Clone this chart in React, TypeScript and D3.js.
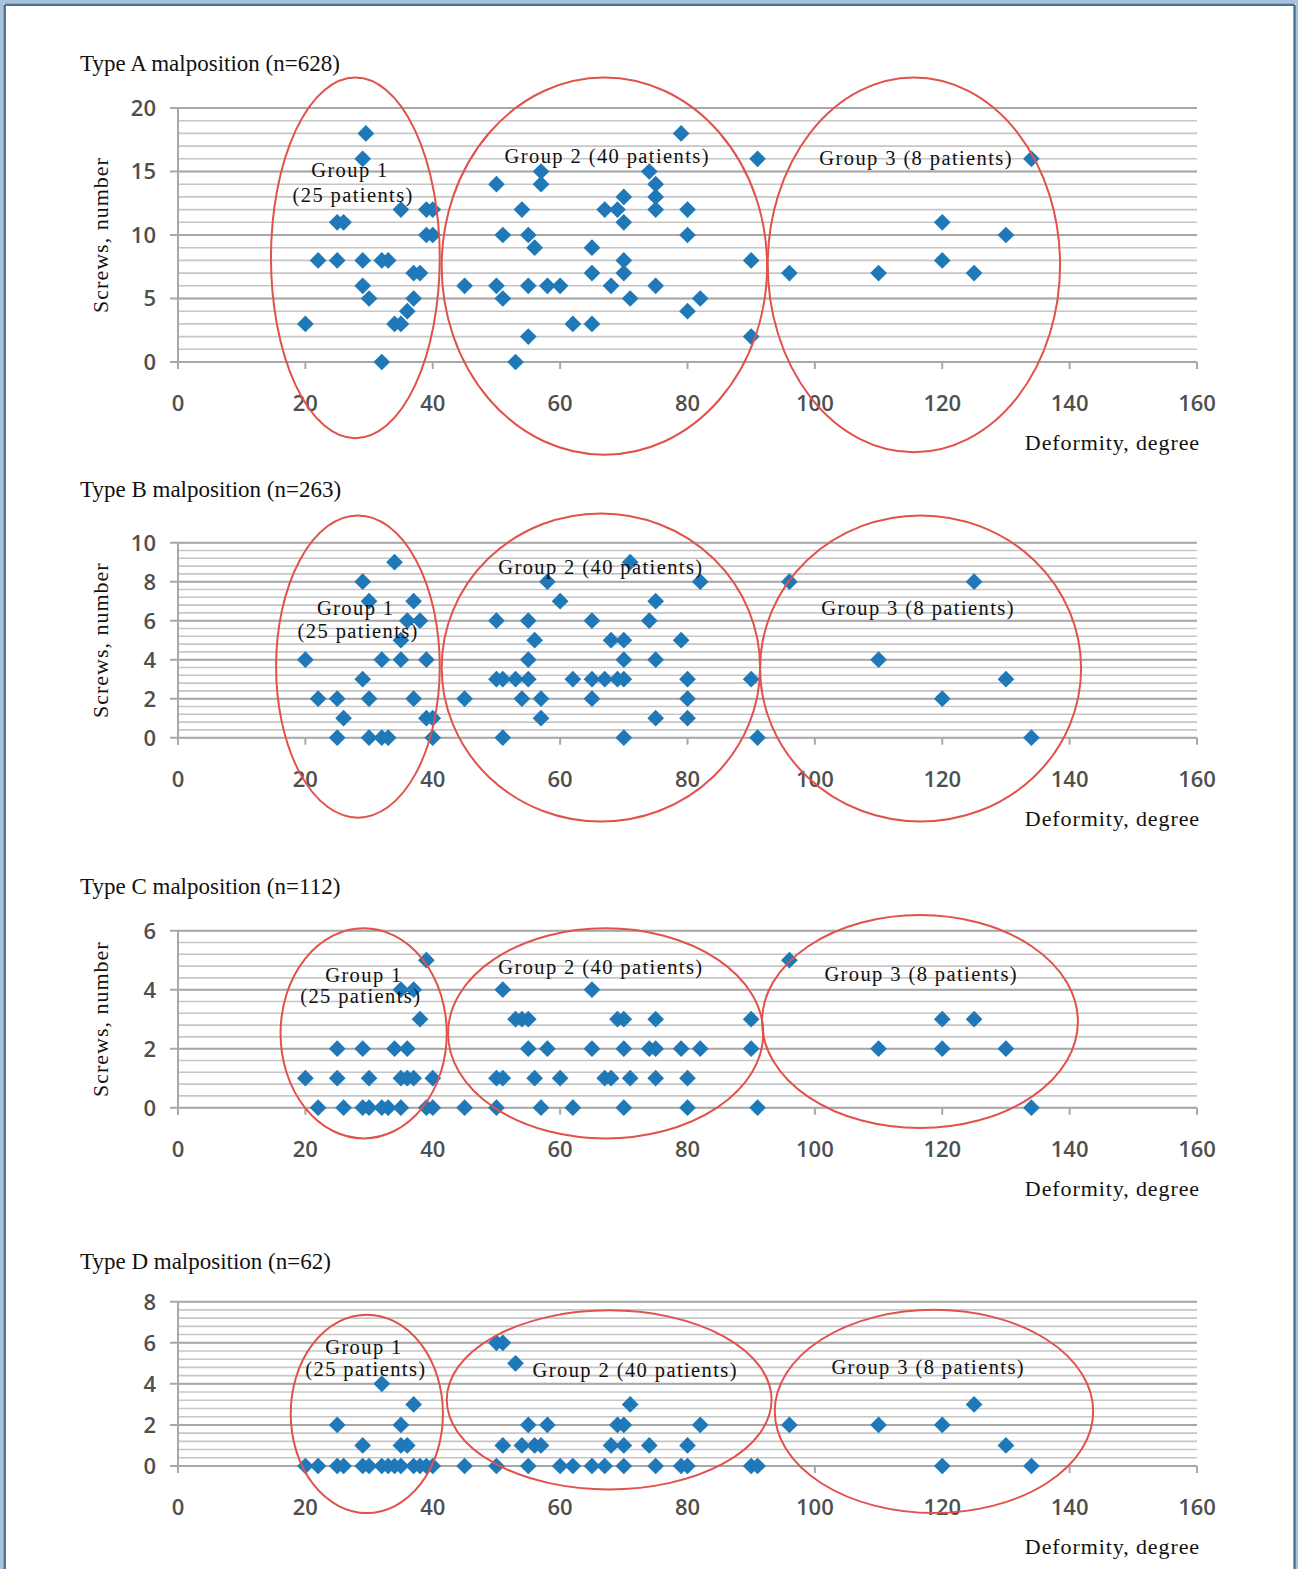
import React from 'react';
import * as d3 from 'd3';

// deformity (degree), screws (number)
const typeA: [number, number][] = [
	[20, 3], [22, 8], [25, 8], [25, 11], [26, 11], [29, 8], [29, 6], [29, 16], [29.5, 18], [30, 5],
	[32, 8], [33, 8], [32, 0], [34, 3], [35, 3], [36, 4], [37, 5], [37, 7], [38, 7], [35, 12],
	[39, 12], [40, 12], [39, 10], [40, 10], [45, 6],
	[50, 14], [54, 12], [57, 15], [57, 14], [51, 10], [55, 10], [56, 9], [50, 6], [51, 5], [55, 6],
	[58, 6], [60, 6], [55, 2], [53, 0], [62, 3], [65, 3], [65, 9], [65, 7], [68, 6], [70, 8],
	[70, 7], [71, 5], [67, 12], [69, 12], [70, 13], [70, 11], [74, 15], [75, 14], [75, 13], [75, 12],
	[75, 6], [79, 18], [80, 12], [80, 10], [80, 4], [82, 5], [90, 8], [90, 2], [91, 16], [96, 7],
	[110, 7], [120, 11], [120, 8], [125, 7], [130, 10], [134, 16],
];

const typeB: [number, number][] = [
	[20, 4], [22, 2], [25, 2], [26, 1], [25, 0], [29, 8], [30, 7], [29, 3], [30, 2], [30, 0],
	[32, 0], [33, 0], [32, 4], [34, 9], [35, 5], [35, 4], [36, 6], [37, 7], [38, 6], [37, 2],
	[39, 4], [39, 1], [40, 1], [40, 0], [45, 2],
	[50, 6], [55, 6], [56, 5], [55, 4], [50, 3], [51, 3], [53, 3], [55, 3], [54, 2], [57, 2],
	[57, 1], [51, 0], [58, 8], [60, 7], [71, 9], [82, 8], [65, 6], [62, 3], [65, 3], [67, 3],
	[69, 3], [70, 3], [65, 2], [68, 5], [70, 5], [70, 4], [70, 0], [75, 7], [74, 6], [75, 4],
	[75, 1], [79, 5], [80, 3], [80, 2], [80, 1], [90, 3], [91, 0], [96, 8],
	[110, 4], [120, 2], [125, 8], [130, 3], [134, 0],
];

const typeC: [number, number][] = [
	[20, 1], [22, 0], [25, 2], [25, 1], [26, 0], [29, 2], [30, 1], [29, 0], [30, 0], [32, 0],
	[33, 0], [34, 2], [36, 2], [35, 1], [36, 1], [37, 1], [35, 0], [35, 4], [37, 4], [38, 3],
	[39, 5], [40, 1], [39, 0], [40, 0], [45, 0],
	[51, 4], [65, 4], [53, 3], [54, 3], [55, 3], [69, 3], [70, 3], [75, 3], [90, 3], [55, 2],
	[58, 2], [65, 2], [70, 2], [74, 2], [75, 2], [79, 2], [82, 2], [90, 2], [50, 1], [51, 1],
	[56, 1], [60, 1], [67, 1], [68, 1], [71, 1], [75, 1], [80, 1], [50, 0], [57, 0], [62, 0],
	[70, 0], [80, 0], [91, 0], [96, 5],
	[110, 2], [120, 3], [120, 2], [125, 3], [130, 2], [134, 0],
];

const typeD: [number, number][] = [
	[25, 2], [32, 4], [37, 3], [35, 2], [29, 1], [35, 1], [36, 1],
	[20, 0], [22, 0], [25, 0], [26, 0], [29, 0], [30, 0], [32, 0], [33, 0], [34, 0],
	[35, 0], [37, 0], [38, 0], [39, 0], [40, 0], [45, 0],
	[50, 6], [51, 6], [53, 5], [71, 3], [55, 2], [58, 2], [69, 2], [70, 2], [82, 2], [96, 2],
	[51, 1], [54, 1], [56, 1], [57, 1], [68, 1], [70, 1], [74, 1], [80, 1],
	[50, 0], [55, 0], [60, 0], [62, 0], [65, 0], [67, 0], [70, 0], [75, 0], [79, 0], [80, 0],
	[90, 0], [91, 0],
	[110, 2], [120, 2], [120, 0], [125, 3], [130, 1], [134, 0],
];

const titles = ['Type A malposition (n=628)', 'Type B malposition (n=263)', 'Type C malposition (n=112)', 'Type D malposition (n=62)'];
const xTicks = [0, 20, 40, 60, 80, 100, 120, 140, 160];
const groupNames = ['Group 1', '(25 patients)', 'Group 2 (40 patients)', 'Group 3 (8 patients)'];

// group ellipses as data-space boxes [deg0, deg1, screws0, screws1]
const ellipsesA = [[14.6, 41.1, -6.0, 22.4], [41.4, 92.5, -7.3, 22.4], [92.6, 138.5, -7.1, 22.4]];
const ellipsesB = [[15.4, 41.1, -4.1, 11.4], [41.4, 91.4, -4.3, 11.5], [91.4, 141.8, -4.3, 11.4]];
const ellipsesC = [[16.1, 42.2, -1.04, 6.08], [42.4, 91.9, -1.04, 6.08], [91.7, 141.3, -0.69, 6.53]];
const ellipsesD = [[17.7, 41.6, -2.29, 7.37], [42.2, 93.2, -1.14, 7.58], [93.7, 143.7, -2.29, 7.61]];

// label anchors (deg, screws) in the same order as groupNames
const labelsA = [[27.0, 14.6], [27.5, 12.6], [67.4, 15.7], [115.9, 15.5]];
const labelsB = [[27.9, 6.3], [28.3, 5.1], [66.4, 8.4], [116.2, 6.3]];
const labelsC = [[29.2, 4.27], [28.7, 3.56], [66.4, 4.53], [116.7, 4.3]];
const labelsD = [[29.2, 5.46], [29.5, 4.39], [71.8, 4.34], [117.8, 4.49]];

const LEFT = 178;
const RIGHT = 1197;
const serif = '"Liberation Serif", "Times New Roman", serif';
const sans = '"Open Sans", "Liberation Sans", sans-serif';
const tickColor = '#4f4f4f';

const panels = [
	{ data: typeA, yMax: 20, major: 5, minor: 1, top: 108, bottom: 362, titleY: 71, ell: ellipsesA, lab: labelsA, yTitle: true },
	{ data: typeB, yMax: 10, major: 2, minor: 0.4, top: 542.7, bottom: 737.7, titleY: 497, ell: ellipsesB, lab: labelsB, yTitle: true },
	{ data: typeC, yMax: 6, major: 2, minor: 0.4, top: 930.7, bottom: 1107.7, titleY: 894, ell: ellipsesC, lab: labelsC, yTitle: true },
	{ data: typeD, yMax: 8, major: 2, minor: 0.4, top: 1301.7, bottom: 1466, titleY: 1269, ell: ellipsesD, lab: labelsD, yTitle: false },
];

const diamond = d3.symbol(d3.symbolSquare, 140)();

const Panel = ({ cfg, title }) => {
	const x = d3.scaleLinear().domain([0, 160]).range([LEFT, RIGHT]);
	const y = d3.scaleLinear().domain([0, cfg.yMax]).range([cfg.bottom, cfg.top]);
	const minorTicks = d3.range(0, cfg.yMax + 1e-6, cfg.minor);
	const majorTicks = d3.range(0, cfg.yMax + 1e-6, cfg.major);

	return (
		<g>
			<text x={80} y={cfg.titleY} fontFamily={serif} fontSize={23} fill="#111">{title}</text>
			{minorTicks.map((t) => (
				<line key={'m' + t} x1={LEFT} x2={RIGHT} y1={y(t)} y2={y(t)} stroke="#c6c6c6" strokeWidth={1.6} />
			))}
			{majorTicks.map((t) => (
				<line key={'M' + t} x1={LEFT - 8} x2={RIGHT} y1={y(t)} y2={y(t)} stroke="#a8a8a8" strokeWidth={2} />
			))}
			<line x1={LEFT} x2={LEFT} y1={cfg.top} y2={cfg.bottom + 7} stroke="#a8a8a8" strokeWidth={2} />
			{xTicks.map((t) => (
				<g key={'x' + t}>
					<line x1={x(t)} x2={x(t)} y1={cfg.bottom} y2={cfg.bottom + 7} stroke="#a8a8a8" strokeWidth={2} />
					<text x={x(t)} y={cfg.bottom + 49} textAnchor="middle" fontFamily={sans} fontWeight={600} fontSize={22} fill={tickColor}>{t}</text>
				</g>
			))}
			{majorTicks.map((t) => (
				<text key={'y' + t} x={156} y={y(t)} dy="0.36em" textAnchor="end" fontFamily={sans} fontWeight={600} fontSize={22} fill={tickColor}>{t}</text>
			))}
			{cfg.data.map((d, i) => (
				<path key={i} d={diamond} transform={`translate(${x(d[0])},${y(d[1])}) rotate(45)`} fill="#1f78b8" />
			))}
			{cfg.ell.map((e, i) => (
				<ellipse key={'e' + i} cx={(x(e[0]) + x(e[1])) / 2} cy={(y(e[2]) + y(e[3])) / 2}
					rx={(x(e[1]) - x(e[0])) / 2} ry={(y(e[2]) - y(e[3])) / 2}
					fill="none" stroke="#e0524b" strokeWidth={2} />
			))}
			{cfg.lab.map((l, i) => (
				<text key={'l' + i} x={x(l[0])} y={y(l[1])} textAnchor="middle" fontFamily={serif} fontSize={20.5} letterSpacing={1.4} fill="#111">{groupNames[i]}</text>
			))}
			<text x={1200} y={cfg.bottom + 88} textAnchor="end" fontFamily={serif} fontSize={22} letterSpacing={0.9} fill="#111">Deformity, degree</text>
			{cfg.yTitle && (
				<text transform={`translate(108, ${(cfg.top + cfg.bottom) / 2}) rotate(-90)`} textAnchor="middle" fontFamily={serif} fontSize={22} letterSpacing={1} fill="#111">Screws, number</text>
			)}
		</g>
	);
};

export default function App() {
	return (
		<svg width={1298} height={1569} style={{ position: 'absolute', left: 0, top: 0, background: '#fff' }}>
			<rect x={0} y={0} width={1298} height={1569} fill="#fff" />
			{/* frame */}
			<rect x={0} y={0} width={1298} height={3.5} fill="#a9c2d9" />
			<rect x={0} y={0} width={3.5} height={1569} fill="#a9c2d9" />
			<rect x={1296} y={0} width={2} height={1569} fill="#a9c2d9" />
			<line x1={4.7} x2={1294.6} y1={4.7} y2={4.7} stroke="#4b7397" strokeWidth={2.5} />
			<line x1={4.7} x2={4.7} y1={4.7} y2={1569} stroke="#4b7397" strokeWidth={2.5} />
			<line x1={1294.6} x2={1294.6} y1={4.7} y2={1569} stroke="#4b7397" strokeWidth={2.5} />
			{panels.map((p, i) => (
				<Panel key={i} cfg={p} title={titles[i]} />
			))}
		</svg>
	);
}
